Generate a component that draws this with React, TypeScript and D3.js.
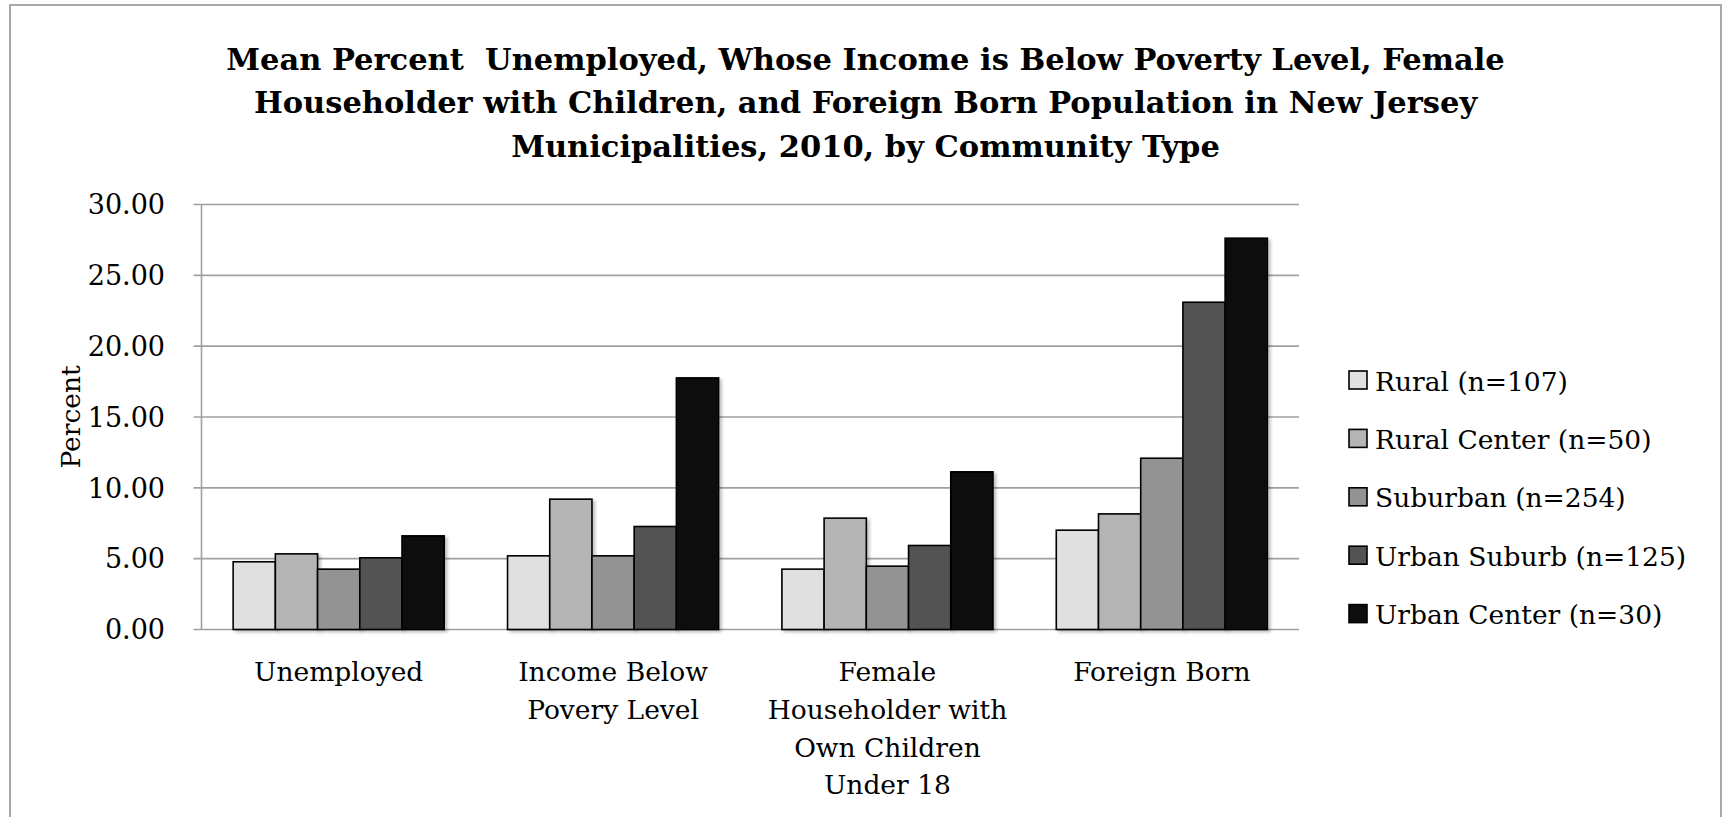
import React from "react";
import * as d3 from "d3";

const titleLines = [
  "Mean Percent  Unemployed, Whose Income is Below Poverty Level, Female",
  "Householder with Children, and Foreign Born Population in New Jersey",
  "Municipalities, 2010, by Community Type",
];
const categories = ["Unemployed", "Income Below Povery Level", "Female Householder with Own Children Under 18", "Foreign Born"];
const categoryLines = [
  ["Unemployed"],
  ["Income Below", "Povery Level"],
  ["Female", "Householder with", "Own Children", "Under 18"],
  ["Foreign Born"],
];
const seriesNames = ["Rural (n=107)", "Rural Center (n=50)", "Suburban (n=254)", "Urban Suburb (n=125)", "Urban Center (n=30)"];
const rural = [4.78, 5.2, 4.26, 7.01];
const ruralCenter = [5.34, 9.2, 7.86, 8.16];
const suburban = [4.26, 5.2, 4.47, 12.09];
const urbanSuburb = [5.06, 7.27, 5.93, 23.1];
const urbanCenter = [6.61, 17.76, 11.13, 27.62];
const seriesValues = [rural, ruralCenter, suburban, urbanSuburb, urbanCenter];
const seriesColors = ["#e0e0e0", "#b4b4b4", "#939393", "#535353", "#0e0e0e"];
const yTicks = [0, 5, 10, 15, 20, 25, 30];
const yAxisTitle = "Percent";

const W = 1731;
const H = 817;
const plot = { left: 201.5, right: 1299, top: 204.5, bottom: 629.5 };
const FONT = "'DejaVu Serif', serif";

export default function App() {
  const y = d3.scaleLinear().domain([0, 30]).range([plot.bottom, plot.top]);
  const x0 = d3
    .scaleBand<string>()
    .domain(categories)
    .range([plot.left, plot.right])
    .paddingInner(1.5 / 6.5)
    .paddingOuter(0.75 / 6.5);
  const x1 = d3
    .scaleBand<number>()
    .domain(d3.range(seriesNames.length))
    .range([0, x0.bandwidth()]);
  const fmt = d3.format(".2f");

  return (
    <svg
      width={W}
      height={H}
      style={{ position: "absolute", left: 0, top: 0, background: "#fff" }}
      fontFamily={FONT}
    >
      <defs>
        <filter id="sh" x="-20%" y="-5%" width="150%" height="120%">
          <feDropShadow dx="2.5" dy="2" stdDeviation="1.6" floodColor="#000" floodOpacity="0.25" />
        </filter>
      </defs>
      <rect x={0} y={0} width={W} height={H} fill="#fff" />
      <rect x={10} y={5} width={1711} height={H + 20} fill="#fff" stroke="#a8a8a8" strokeWidth={2} />

      {/* Title */}
      <g fontWeight="bold" fontSize={30.5} textAnchor="middle" fill="#000">
        {titleLines.map((t, i) => (
          <text key={i} x={865.5} y={69.5 + i * 43.5} xmlSpace="preserve" style={{ whiteSpace: "pre" }}>
            {t}
          </text>
        ))}
      </g>

      {/* Gridlines and ticks */}
      <g stroke="#a0a0a0" strokeWidth={1.6}>
        {yTicks.map((t) => (
          <line key={t} x1={plot.left - 8} x2={plot.right} y1={y(t)} y2={y(t)} />
        ))}
        <line x1={plot.left} x2={plot.left} y1={plot.top} y2={plot.bottom} />
      </g>

      {/* Y tick labels */}
      <g fontSize={27} textAnchor="end" fill="#000">
        {yTicks.map((t) => (
          <text key={t} x={165} y={y(t)} dy="0.36em">
            {fmt(t)}
          </text>
        ))}
      </g>
      <text
        transform={`translate(${80},${417}) rotate(-90)`}
        textAnchor="middle"
        fontSize={26.5}
        fill="#000"
      >
        {yAxisTitle}
      </text>

      {/* Bars */}
      <g>
        {categories.map((c, ci) => (
          <g key={c} transform={`translate(${x0(c)},0)`}>
            {seriesValues.map((vals, si) => (
              <rect
                key={si}
                x={x1(si)}
                y={y(vals[ci])}
                width={x1.bandwidth()}
                height={y(0) - y(vals[ci])}
                fill={seriesColors[si]}
                stroke="#000"
                strokeWidth={1.6}
                filter="url(#sh)"
              />
            ))}
          </g>
        ))}
      </g>

      {/* Category labels */}
      <g fontSize={26.5} textAnchor="middle" fill="#000">
        {categories.map((c, ci) => (
          <text key={c}>
            {categoryLines[ci].map((ln, li) => (
              <tspan key={li} x={(x0(c) as number) + x0.bandwidth() / 2} y={681 + li * 37.8}>
                {ln}
              </tspan>
            ))}
          </text>
        ))}
      </g>

      {/* Legend */}
      <g>
        {seriesNames.map((s, i) => (
          <g key={s} transform={`translate(1349,${371 + i * 58.4})`}>
            <rect x={0} y={0} width={18} height={18} fill={seriesColors[i]} stroke="#000" strokeWidth={1.6} />
            <text x={26} y={10} dy="0.36em" fontSize={26.5} fill="#000">
              {s}
            </text>
          </g>
        ))}
      </g>
    </svg>
  );
}
